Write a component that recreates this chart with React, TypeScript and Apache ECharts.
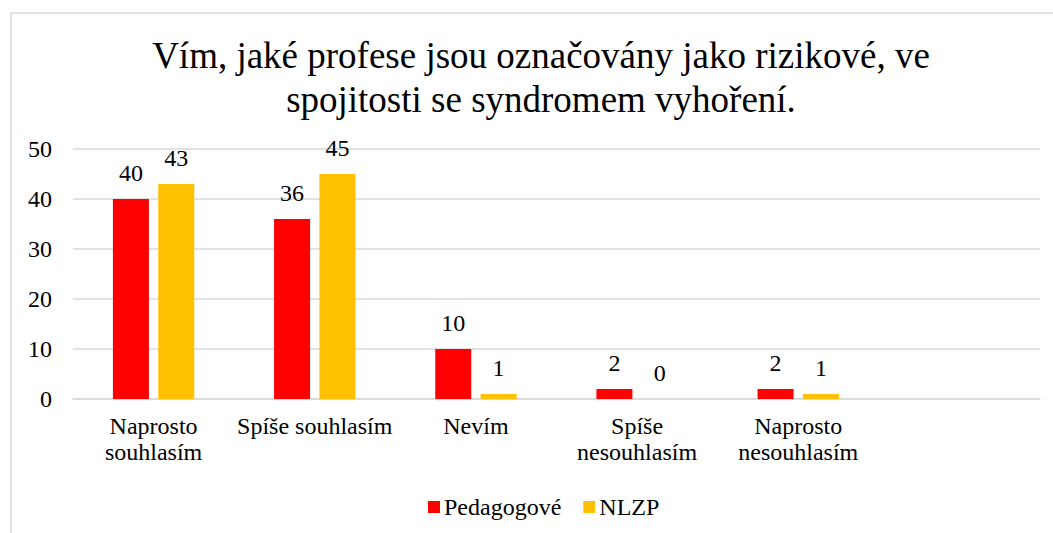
import React, { useEffect, useRef } from "react";
import * as echarts from "echarts";

const titleText = "Vím, jaké profese jsou označovány jako rizikové, ve\nspojitosti se syndromem vyhoření.";
const categories = [
  "Naprosto\nsouhlasím",
  "Spíše souhlasím",
  "Nevím",
  "Spíše\nnesouhlasím",
  "Naprosto\nnesouhlasím",
  "",
];
const seriesNames = ["Pedagogové", "NLZP"];
const pedagogove = [40, 36, 10, 2, 2, null];
const nlzp = [43, 45, 1, 0, 1, null];
const yTicks = { min: 0, max: 50, interval: 10 };

const FONT = "Liberation Serif, Times New Roman, serif";

export default function App() {
  const ref = useRef<HTMLDivElement>(null);
  useEffect(() => {
    if (!ref.current) return;
    const chart = echarts.init(ref.current, undefined, { renderer: "svg" });
    const labelCfg = {
      show: true,
      position: "top",
      distance: 14,
      color: "#000",
      fontSize: 24,
      fontFamily: FONT,
    };
    chart.setOption({
      animation: false,
      backgroundColor: "#fff",
      textStyle: { fontFamily: FONT },
      graphic: [
        {
          type: "rect",
          shape: { x: 11, y: 13, width: 1200, height: 700 },
          style: { fill: "none", stroke: "#d9d9d9", lineWidth: 1.5 },
          silent: true,
          z: -1,
        },
      ],
      title: {
        text: titleText,
        left: 536,
        top: 28,
        textAlign: "center",
        textStyle: {
          fontFamily: FONT,
          fontSize: 37,
          fontWeight: "normal",
          color: "#000",
          lineHeight: 44,
        },
      },
      legend: {
        data: seriesNames,
        left: 423,
        top: 490,
        itemWidth: 12,
        itemHeight: 12,
        itemGap: 22,
        icon: "rect",
        textStyle: { fontFamily: FONT, fontSize: 24, color: "#000", padding: [0, 0, 0, -1] },
      },
      grid: { left: 73, right: 13, top: 149, bottom: 134, containLabel: false },
      xAxis: {
        type: "category",
        data: categories,
        axisLine: { show: true, lineStyle: { color: "#d9d9d9", width: 1.5 } },
        axisTick: { show: false },
        axisLabel: {
          interval: 0,
          margin: 14,
          color: "#000",
          fontSize: 24,
          fontFamily: FONT,
          lineHeight: 26,
        },
      },
      yAxis: {
        type: "value",
        min: yTicks.min,
        max: yTicks.max,
        interval: yTicks.interval,
        axisLine: { show: false },
        axisTick: { show: false },
        splitLine: { lineStyle: { color: "#d9d9d9", width: 1.5 } },
        axisLabel: { margin: 21, color: "#000", fontSize: 24, fontFamily: FONT },
      },
      series: [
        {
          name: seriesNames[0],
          type: "bar",
          data: pedagogove,
          barWidth: 36,
          barGap: "26%",
          itemStyle: { color: "#FF0000" },
          label: labelCfg,
        },
        {
          name: seriesNames[1],
          type: "bar",
          data: nlzp,
          barWidth: 36,
          barGap: "26%",
          itemStyle: { color: "#FFC000" },
          label: labelCfg,
        },
      ],
    });
    return () => chart.dispose();
  }, []);
  return (
    <div
      ref={ref}
      style={{ position: "fixed", left: 0, top: 0, width: 1053, height: 533 }}
    />
  );
}
